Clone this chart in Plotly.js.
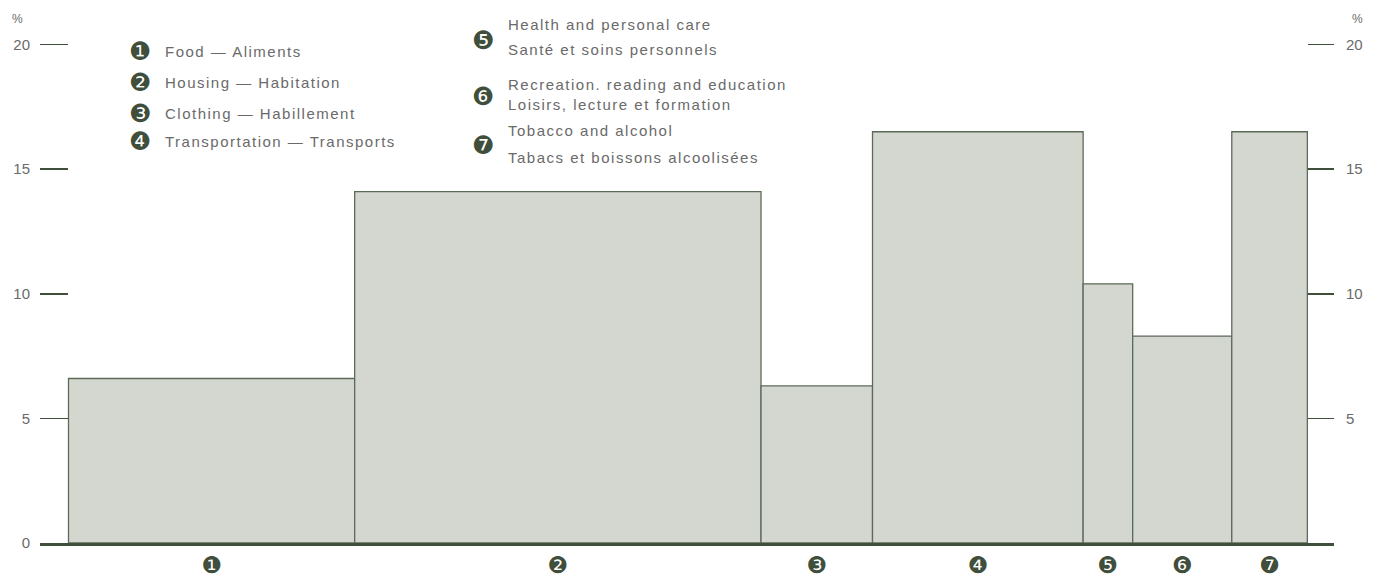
<!DOCTYPE html>
<html>
<head>
<meta charset="utf-8">
<script src="https://cdn.plot.ly/plotly-3.0.1.min.js"></script>
<style>html,body{margin:0;padding:0;background:#fff;}#chart{width:1381px;height:580px;}</style>
</head>
<body>
<div id="chart"></div>
<script>
// Categories (circled numbers used as axis labels)
const categoryMarks = ['❶','❷','❸','❹','❺','❻','❼'];
const legendLeft = ['Food — Aliments','Housing — Habitation','Clothing — Habillement','Transportation — Transports'];
const legendRightEn = ['Health and personal care','Recreation. reading and education','Tobacco and alcohol'];
const legendRightFr = ['Santé et soins personnels','Loisirs, lecture et formation','Tabacs et boissons alcoolisées'];
// Bar widths: share of expenditure (%); heights: percentage values
const shares = [23.1, 32.8, 9.0, 17.0, 4.0, 8.0, 6.1];
const values = [6.6, 14.1, 6.3, 16.5, 10.4, 8.3, 16.5];
const yTicks = [0, 5, 10, 15, 20];
const yTicksRight = [5, 10, 15, 20];

const centers = [];
let acc = 0;
for (const s of shares) { centers.push(acc + s / 2); acc += s; }

const FONT = 'Liberation Sans, Arial, sans-serif';
const TXT = '#6a6a6a';
const DARK = '#3f4f3c';
const spaced = t => '<span style="letter-spacing:1.5px">' + t + '</span>';

const data = [{
  type: 'bar',
  x: centers,
  y: values,
  width: shares,
  marker: {color: '#d4d7d0', line: {color: '#5c6b58', width: 1.3}},
  hoverinfo: 'skip',
  showlegend: false
}, {
  type: 'scatter', mode: 'markers', x: [centers[0]], y: [0], yaxis: 'y2',
  marker: {opacity: 0}, hoverinfo: 'skip', showlegend: false
}];

const PX0 = 40, PW = 1294, PY0 = 543, PH = 501.5;
const px = v => (v - PX0) / PW;
const py = v => (PY0 - v) / PH;

const annotations = [];
// left legend block
const leftY = [51, 82, 113, 141];
legendLeft.forEach((t, i) => {
  annotations.push({xref: 'paper', yref: 'paper', x: px(127), y: py(leftY[i]),
    xanchor: 'left', yanchor: 'middle', text: categoryMarks[i], showarrow: false,
    font: {family: 'DejaVu Sans', size: 25, color: DARK}});
  annotations.push({xref: 'paper', yref: 'paper', x: px(163), y: py(leftY[i]),
    xanchor: 'left', yanchor: 'middle', text: spaced(t), showarrow: false,
    font: {family: FONT, size: 15, color: TXT}});
});
// right legend block
const rEnY = [24, 84, 130];
const rFrY = [49, 104, 157];
const rMarkY = [40, 96, 145];
legendRightEn.forEach((t, i) => {
  annotations.push({xref: 'paper', yref: 'paper', x: px(470), y: py(rMarkY[i]),
    xanchor: 'left', yanchor: 'middle', text: categoryMarks[i + 4], showarrow: false,
    font: {family: 'DejaVu Sans', size: 25, color: DARK}});
  annotations.push({xref: 'paper', yref: 'paper', x: px(506), y: py(rEnY[i]),
    xanchor: 'left', yanchor: 'middle', text: spaced(t), showarrow: false,
    font: {family: FONT, size: 15, color: TXT}});
  annotations.push({xref: 'paper', yref: 'paper', x: px(506), y: py(rFrY[i]),
    xanchor: 'left', yanchor: 'middle', text: spaced(legendRightFr[i]), showarrow: false,
    font: {family: FONT, size: 15, color: TXT}});
});
// % unit labels
annotations.push({xref: 'paper', yref: 'paper', x: px(17), y: py(18),
  xanchor: 'center', yanchor: 'middle', text: '%', showarrow: false, font: {family: FONT, size: 12, color: TXT}});
annotations.push({xref: 'paper', yref: 'paper', x: px(1357), y: py(18),
  xanchor: 'center', yanchor: 'middle', text: '%', showarrow: false, font: {family: FONT, size: 12, color: TXT}});

const layout = {
  width: 1381, height: 580,
  margin: {l: 40, r: 47, t: 41.5, b: 37},
  paper_bgcolor: '#ffffff', plot_bgcolor: '#ffffff',
  bargap: 0,
  xaxis: {
    range: [-2.3, 102.15], showgrid: false, zeroline: false,
    showline: true, linecolor: DARK, linewidth: 2.5,
    tickmode: 'array', tickvals: centers, ticktext: categoryMarks,
    ticks: '', tickfont: {family: 'DejaVu Sans', size: 23, color: DARK},
    ticklabelstandoff: 0, fixedrange: true
  },
  yaxis: {
    range: [0, 20.1], showgrid: false, zeroline: false, showline: false,
    tickmode: 'array', tickvals: yTicks, ticktext: yTicks.map(String),
    ticks: 'inside', ticklen: 28, tickwidth: 1.5, tickcolor: DARK,
    tickfont: {family: FONT, size: 15, color: TXT}, ticklabelstandoff: 9, fixedrange: true
  },
  yaxis2: {
    range: [0, 20.1], overlaying: 'y', side: 'right', showgrid: false, zeroline: false, showline: false,
    tickmode: 'array', tickvals: yTicksRight, ticktext: yTicksRight.map(String),
    ticks: 'inside', ticklen: 26, tickwidth: 1.5, tickcolor: DARK,
    tickfont: {family: FONT, size: 15, color: TXT}, ticklabelstandoff: 11, fixedrange: true
  },
  annotations: annotations,
  showlegend: false
};

Plotly.newPlot('chart', data, layout, {displayModeBar: false, staticPlot: true});
</script>
</body>
</html>
